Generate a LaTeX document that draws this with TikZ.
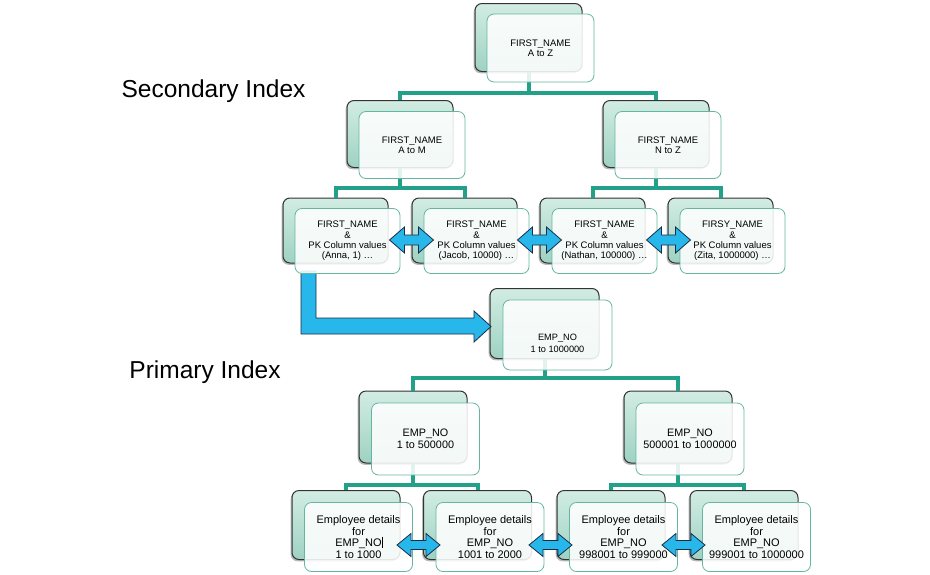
\documentclass[tikz,border=0pt]{standalone}
\usepackage{fontspec}
\setmainfont{Liberation Sans}
\usetikzlibrary{shadows}
\definecolor{connc}{RGB}{34,160,136}
\definecolor{mintA}{RGB}{210,236,227}
\definecolor{mintB}{RGB}{158,210,194}
\definecolor{fborder}{RGB}{100,182,163}
\definecolor{arrfill}{RGB}{40,183,234}
\definecolor{arrline}{RGB}{25,45,70}
\newcommand\fsA{\fontsize{9.5}{10.3}\selectfont}
\newcommand\fsB{\fontsize{9.2}{12}\selectfont}
\newcommand\fsC{\fontsize{10.8}{12}\selectfont}
\newcommand\fsD{\fontsize{11}{11.7}\selectfont}
\newcommand\fsBig{\fontsize{24.5}{28}\selectfont}
\begin{document}
\begin{tikzpicture}[x=1pt,y=-1pt,
  backbox/.style={rounded corners=7pt, draw=black!80, line width=1pt,
    top color=mintA, bottom color=mintB, inner sep=0pt,
    drop shadow={shadow xshift=-1.4pt, shadow yshift=-1.8pt, opacity=0.55}},
  frontbox/.style={rounded corners=7pt, draw=fborder, line width=0.8pt,
    fill=white, fill opacity=0.87, text opacity=1, inner sep=0pt, align=center},
  szA/.style={minimum width=107pt, minimum height=68pt},
  szB/.style={minimum width=106pt, minimum height=67pt},
  szC/.style={minimum width=105pt, minimum height=65pt},
  szD/.style={minimum width=109pt, minimum height=70pt},
  szE/.style={minimum width=108pt, minimum height=72pt},
  szF/.style={minimum width=108pt, minimum height=69pt},
  connline/.style={draw=connc, line width=4pt},
  arrowstyle/.style={fill=arrfill, draw=arrline, line width=0.8pt, line join=miter},
  bigarr/.pic={\path[arrowstyle] (-22,0) -- (-7,-13) -- (-7,-5) -- (7,-5) -- (7,-13) -- (22,0) -- (7,13) -- (7,5) -- (-7,5) -- (-7,13) -- cycle;},
  smallarr/.pic={\path[arrowstyle] (-21.5,0) -- (-7.5,-11.5) -- (-7.5,-4.5) -- (7.5,-4.5) -- (7.5,-11.5) -- (21.5,0) -- (7.5,11.5) -- (7.5,4.5) -- (-7.5,4.5) -- (-7.5,11.5) -- cycle;},
  title/.style={font=\fsBig, anchor=base, inner sep=0pt}
]
\fill[white] (0,0) rectangle (930,574);
\useasboundingbox (0,0) rectangle (930,574);

% titles
\node[title] (sec) at (213.5,97) {Secondary Index};
\node[title] (pri) at (205,378) {Primary Index};

% back boxes
\node[backbox,szA] (t0b) at (528.5,37.5) {};
\node[backbox,szB] (l2ab) at (400,134) {};
\node[backbox,szB] (l2bb) at (656,134) {};
\node[backbox,szC] (l3ab) at (335.5,230.5) {};
\node[backbox,szC] (l3bb) at (464.5,230.5) {};
\node[backbox,szC] (l3cb) at (592.5,230.5) {};
\node[backbox,szC] (l3db) at (720.5,230.5) {};
\node[backbox,szD] (e0b) at (544.5,323.5) {};
\node[backbox,szE] (e1ab) at (413,427) {};
\node[backbox,szE] (e1bb) at (678,427) {};
\node[backbox,szF] (e2ab) at (346,525) {};
\node[backbox,szF] (e2bb) at (477.5,525) {};
\node[backbox,szF] (e2cb) at (611,525) {};
\node[backbox,szF] (e2db) at (744,525) {};

% connectors
\draw[connline] (t0b.south) -- ++(0,20.5) -| (l2ab.north);
\draw[connline] (t0b.south) -- ++(0,20.5) -| (l2bb.north);
\draw[connline] (l2ab.south) -- ++(0,19.5) -| (l3ab.north);
\draw[connline] (l2ab.south) -- ++(0,19.5) -| (l3bb.north);
\draw[connline] (l2bb.south) -- ++(0,19.5) -| (l3cb.north);
\draw[connline] (l2bb.south) -- ++(0,19.5) -| (l3db.north);
\draw[connline] (e0b.south) -- ++(0,18.5) -| (e1ab.north);
\draw[connline] (e0b.south) -- ++(0,18.5) -| (e1bb.north);
\draw[connline] (e1ab.south) -- ++(0,21) -| (e2ab.north);
\draw[connline] (e1ab.south) -- ++(0,21) -| (e2bb.north);
\draw[connline] (e1bb.south) -- ++(0,21) -| (e2cb.north);
\draw[connline] (e1bb.south) -- ++(0,21) -| (e2db.north);

% L-shaped arrow from secondary leaf to primary root
\path[arrowstyle] (301,271) -- (301,334) -- (474,334) -- (474,342) -- (491,326.5)
  -- (474,311) -- (474,318) -- (316,318) -- (316,271) -- cycle;

% front boxes
\node[frontbox,szA,font=\fsA] (t0f) at (540.5,48) {FIRST\_NAME\\A to Z};
\node[frontbox,szB,font=\fsA] (l2af) at (412,145) {FIRST\_NAME\\A to M};
\node[frontbox,szB,font=\fsA] (l2bf) at (668,145) {FIRST\_NAME\\N to Z};
\node[frontbox,szC,font=\fsA] (l3af) at (347.5,241) {FIRST\_NAME\\\&\\PK Column values\\(Anna, 1) …};
\node[frontbox,szC,font=\fsA] (l3bf) at (476.5,241) {FIRST\_NAME\\\&\\PK Column values\\(Jacob, 10000) …};
\node[frontbox,szC,font=\fsA] (l3cf) at (604.5,241) {FIRST\_NAME\\\&\\PK Column values\\(Nathan, 100000) …};
\node[frontbox,szC,font=\fsA] (l3df) at (732.5,241) {FIRSY\_NAME\\\&\\PK Column values\\(Zita, 1000000) …};
\node[frontbox,szD] (e0f) at (557.5,335) {};
\node[font=\fsB, align=center, inner sep=0pt] (e0t) at ([yshift=-8pt]e0f.center) {EMP\_NO\\1 to 1000000};
\node[frontbox,szE,font=\fsC] (e1af) at (425.5,439) {EMP\_NO\\1 to 500000};
\node[frontbox,szE,font=\fsC] (e1bf) at (690,439) {EMP\_NO\\500001 to 1000000};
\node[frontbox,szF,font=\fsD] (e2af) at (358.5,537) {Employee details\\for\\EMP\_NO\\1 to 1000};
\node[frontbox,szF,font=\fsD] (e2bf) at (490,537) {Employee details\\for\\EMP\_NO\\1001 to 2000};
\node[frontbox,szF,font=\fsD] (e2cf) at (623.5,537) {Employee details\\for\\EMP\_NO\\998001 to 999000};
\node[frontbox,szF,font=\fsD] (e2df) at (756.5,537) {Employee details\\for\\EMP\_NO\\999001 to 1000000};

% text caret
\coordinate (caretTop) at (382,536.5);
\coordinate (caretBot) at (382,547.5);
\draw[black, line width=0.7pt] (caretTop) -- (caretBot);

% double arrows between neighbours
\coordinate (a1) at (411.5,240);
\coordinate (a2) at (539.5,240);
\coordinate (a3) at (668.5,240);
\coordinate (b1) at (418.5,545);
\coordinate (b2) at (550.5,545);
\coordinate (b3) at (683.5,545);
\pic at (a1) {bigarr};
\pic at (a2) {bigarr};
\pic at (a3) {bigarr};
\pic at (b1) {smallarr};
\pic at (b2) {smallarr};
\pic at (b3) {smallarr};
\end{tikzpicture}
\end{document}
